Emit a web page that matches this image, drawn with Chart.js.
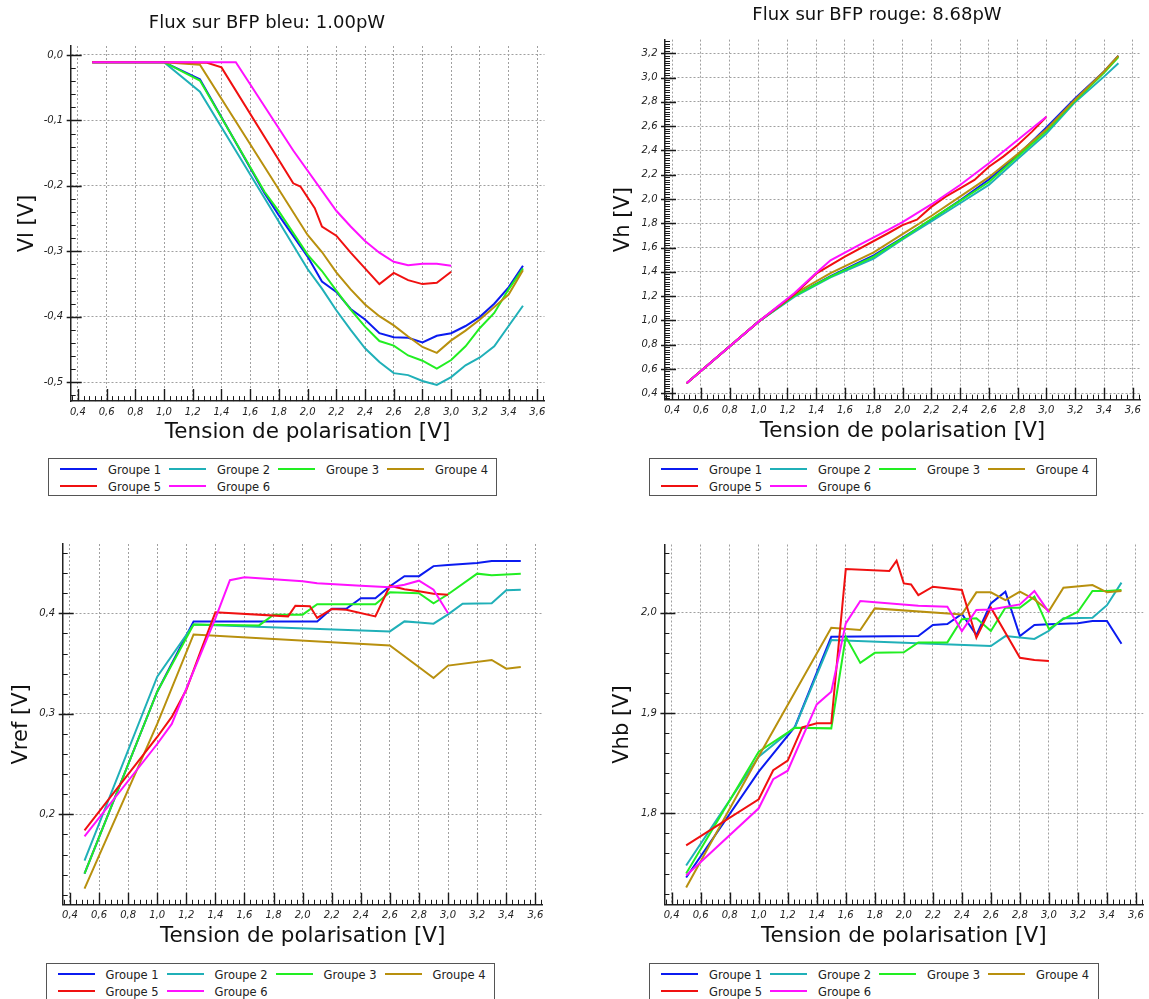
<!DOCTYPE html>
<html>
<head>
<meta charset="utf-8">
<script src="https://cdn.jsdelivr.net/npm/chart.js@4/dist/chart.umd.min.js"></script>
<style>
  body { margin:0; background:#fff; width:1149px; height:999px; overflow:hidden; position:relative; font-family:'DejaVu Sans', sans-serif; }
  canvas { position:absolute; }
  .title { position:absolute; font-size:18px; color:#111; transform:translate(-50%,-50%); white-space:nowrap; }
  .legend { position:absolute; border:1.5px solid #555; box-sizing:border-box; background:#fff; }
  .item { position:absolute; font-size:11.5px; color:#222; white-space:nowrap; line-height:14px; transform:translateY(-50%); }
  .item i { display:inline-block; width:37px; height:2px; vertical-align:middle; margin-right:11px; position:relative; top:-1px; }
</style>
</head>
<body>
<canvas id="c-vl" width="560" height="450" style="left:0;top:0"></canvas>
<canvas id="c-vh" width="574" height="450" style="left:575px;top:0"></canvas>
<canvas id="c-vref" width="560" height="450" style="left:0;top:500px"></canvas>
<canvas id="c-vhb" width="574" height="450" style="left:575px;top:500px"></canvas>
<div class="title" style="left:267px;top:20.7px">Flux sur BFP bleu: 1.00pW</div>
<div class="title" style="left:877px;top:13.3px">Flux sur BFP rouge: 8.68pW</div>
<div class="legend" id="leg-vl" style="left:48px;top:458px;width:449px;height:38px"></div>
<div class="legend" id="leg-vh" style="left:649px;top:458px;width:448px;height:38px"></div>
<div class="legend" id="leg-vref" style="left:45.5px;top:963px;width:449px;height:40px"></div>
<div class="legend" id="leg-vhb" style="left:649px;top:963px;width:450px;height:40px"></div>
<script>
/* ── DATA ── */
const groups = ['Groupe 1', 'Groupe 2', 'Groupe 3', 'Groupe 4', 'Groupe 5', 'Groupe 6'];
const colors = ['#0b1bf0', '#20b0b8', '#22ee22', '#b8900e', '#f01010', '#ff11ff'];

const xTicks    = [0.4, 0.6, 0.8, 1.0, 1.2, 1.4, 1.6, 1.8, 2.0, 2.2, 2.4, 2.6, 2.8, 3.0, 3.2, 3.4, 3.6];
const vlTicks   = [-0.5, -0.4, -0.3, -0.2, -0.1, 0.0];
const vhTicks   = [0.4, 0.6, 0.8, 1.0, 1.2, 1.4, 1.6, 1.8, 2.0, 2.2, 2.4, 2.6, 2.8, 3.0, 3.2];
const vrefTicks = [0.2, 0.3, 0.4];
const vhbTicks  = [1.8, 1.9, 2.0];

// Vl (haut gauche)
const vlX1 = [0.5, 1.0, 1.25, 1.7, 1.8, 2.0, 2.1, 2.2, 2.3, 2.4, 2.5, 2.6, 2.7, 2.8, 2.9, 3.0, 3.1, 3.2, 3.3, 3.4, 3.5];
const vlY1 = [-0.011, -0.011, -0.037, -0.211, -0.245, -0.308, -0.346, -0.362, -0.388, -0.404, -0.425, -0.431, -0.432, -0.439, -0.429, -0.425, -0.414, -0.400, -0.380, -0.355, -0.322];
const vlX2 = [0.5, 1.0, 1.25, 2.0, 2.1, 2.2, 2.3, 2.4, 2.5, 2.6, 2.7, 2.8, 2.9, 3.0, 3.1, 3.2, 3.3, 3.4, 3.5];
const vlY2 = [-0.011, -0.011, -0.056, -0.327, -0.357, -0.390, -0.420, -0.448, -0.469, -0.486, -0.489, -0.498, -0.504, -0.492, -0.474, -0.462, -0.445, -0.414, -0.383];
const vlX3 = [0.5, 1.0, 1.25, 1.7, 1.8, 2.0, 2.1, 2.2, 2.3, 2.4, 2.5, 2.6, 2.7, 2.8, 2.9, 3.0, 3.1, 3.2, 3.3, 3.4, 3.5];
const vlY3 = [-0.011, -0.011, -0.039, -0.209, -0.239, -0.305, -0.330, -0.360, -0.389, -0.415, -0.437, -0.444, -0.459, -0.467, -0.479, -0.466, -0.445, -0.417, -0.394, -0.358, -0.326];
const vlX4 = [0.5, 1.0, 1.25, 2.0, 2.1, 2.2, 2.3, 2.4, 2.5, 2.6, 2.7, 2.8, 2.9, 3.0, 3.1, 3.2, 3.3, 3.4, 3.5];
const vlY4 = [-0.011, -0.011, -0.015, -0.275, -0.301, -0.332, -0.358, -0.381, -0.399, -0.413, -0.430, -0.446, -0.455, -0.436, -0.421, -0.404, -0.385, -0.366, -0.329];
const vlX5 = [0.5, 1.0, 1.3, 1.4, 1.9, 1.95, 2.05, 2.1, 2.2, 2.3, 2.4, 2.5, 2.6, 2.7, 2.8, 2.9, 3.0];
const vlY5 = [-0.011, -0.011, -0.012, -0.019, -0.196, -0.201, -0.234, -0.262, -0.276, -0.302, -0.326, -0.350, -0.333, -0.344, -0.350, -0.348, -0.331];
const vlX6 = [0.5, 1.0, 1.5, 1.9, 2.2, 2.3, 2.4, 2.5, 2.6, 2.7, 2.8, 2.9, 3.0];
const vlY6 = [-0.011, -0.011, -0.011, -0.146, -0.238, -0.262, -0.284, -0.302, -0.316, -0.321, -0.319, -0.319, -0.322];

// Vh (haut droite)
const vhX  = [0.5, 1.0, 1.25, 1.5, 1.8, 2.0, 2.2, 2.4, 2.6, 2.8, 3.0, 3.2, 3.4, 3.5];
const vhY1 = [0.482, 0.99, 1.205, 1.365, 1.535, 1.68, 1.83, 1.99, 2.16, 2.36, 2.59, 2.83, 3.05, 3.18];
const vhY2 = [0.482, 0.99, 1.195, 1.355, 1.51, 1.668, 1.815, 1.965, 2.116, 2.33, 2.54, 2.80, 3.008, 3.118];
const vhY3 = [0.482, 0.99, 1.205, 1.36, 1.525, 1.675, 1.835, 1.985, 2.14, 2.35, 2.56, 2.81, 3.04, 3.17];
const vhY4 = [0.482, 0.99, 1.22, 1.39, 1.56, 1.71, 1.86, 2.02, 2.18, 2.37, 2.575, 2.82, 3.05, 3.18];
const vhX5 = [0.5, 1.0, 1.25, 1.4, 1.6, 1.9, 2.0, 2.1, 2.2, 2.3, 2.4, 2.5, 2.6, 2.7, 2.8, 2.9, 3.0];
const vhY5 = [0.482, 0.99, 1.215, 1.385, 1.525, 1.718, 1.785, 1.83, 1.935, 2.02, 2.088, 2.157, 2.266, 2.349, 2.445, 2.555, 2.678];
const vhX6 = [0.5, 1.0, 1.25, 1.4, 1.5, 1.7, 1.9, 2.0, 2.2, 2.4, 2.6, 2.8, 3.0];
const vhY6 = [0.482, 0.99, 1.225, 1.39, 1.495, 1.622, 1.745, 1.81, 1.955, 2.115, 2.294, 2.486, 2.678];

// Vref (bas gauche)
const vrefX1 = [0.5, 1.0, 1.25, 2.1, 2.2, 2.3, 2.4, 2.5, 2.6, 2.7, 2.8, 2.9, 3.0, 3.2, 3.3, 3.5];
const vrefY1 = [0.141, 0.322, 0.392, 0.392, 0.4045, 0.4045, 0.415, 0.415, 0.427, 0.437, 0.437, 0.447, 0.448, 0.450, 0.452, 0.452];
const vrefX2 = [0.5, 1.0, 1.25, 2.6, 2.7, 2.8, 2.9, 3.0, 3.1, 3.3, 3.4, 3.5];
const vrefY2 = [0.154, 0.337, 0.389, 0.382, 0.392, 0.391, 0.3897, 0.399, 0.4096, 0.410, 0.4229, 0.4235];
const vrefX3 = [0.5, 1.0, 1.25, 1.7, 1.8, 2.0, 2.1, 2.5, 2.6, 2.8, 2.9, 3.0, 3.2, 3.3, 3.5];
const vrefY3 = [0.141, 0.322, 0.389, 0.388, 0.3987, 0.3987, 0.409, 0.409, 0.421, 0.420, 0.410, 0.419, 0.4395, 0.438, 0.4395];
const vrefX4 = [0.5, 1.0, 1.25, 2.6, 2.9, 3.0, 3.3, 3.4, 3.5];
const vrefY4 = [0.126, 0.29, 0.379, 0.368, 0.3357, 0.348, 0.3536, 0.345, 0.3466];
const vrefX5 = [0.5, 1.0, 1.1, 1.2, 1.3, 1.4, 1.9, 1.95, 2.05, 2.1, 2.2, 2.3, 2.5, 2.6, 2.7, 2.8, 2.9, 3.0];
const vrefY5 = [0.184, 0.277, 0.297, 0.324, 0.363, 0.401, 0.397, 0.4076, 0.407, 0.3954, 0.4043, 0.4036, 0.397, 0.4275, 0.424, 0.422, 0.4196, 0.4186];
const vrefX6 = [0.5, 1.0, 1.1, 1.2, 1.3, 1.4, 1.5, 1.6, 1.8, 2.0, 2.1, 2.4, 2.6, 2.7, 2.8, 2.9, 3.0];
const vrefY6 = [0.178, 0.27, 0.29, 0.325, 0.36, 0.395, 0.433, 0.436, 0.434, 0.432, 0.430, 0.4275, 0.426, 0.4285, 0.4325, 0.4236, 0.400];

// Vhb (bas droite)
const vhbX1 = [0.5, 1.0, 1.25, 1.5, 2.1, 2.2, 2.3, 2.4, 2.5, 2.6, 2.7, 2.8, 2.9, 3.0, 3.2, 3.3, 3.4, 3.5];
const vhbY1 = [1.736, 1.8415, 1.8864, 1.976, 1.9767, 1.9877, 1.9887, 1.9987, 1.9777, 2.0093, 2.0209, 1.9767, 1.9877, 1.9884, 1.9894, 1.9917, 1.9917, 1.969];
const vhbX2 = [0.5, 1.0, 1.25, 1.5, 2.6, 2.7, 2.9, 3.0, 3.1, 3.3, 3.4, 3.5];
const vhbY2 = [1.748, 1.8565, 1.886, 1.9728, 1.9668, 1.9767, 1.9738, 1.982, 1.9944, 1.995, 2.0075, 2.030];
const vhbX3 = [0.5, 1.0, 1.25, 1.5, 1.6, 1.7, 1.8, 2.0, 2.1, 2.3, 2.4, 2.5, 2.6, 2.7, 2.8, 2.9, 3.0, 3.1, 3.2, 3.3, 3.4, 3.5];
const vhbY3 = [1.740, 1.8615, 1.8854, 1.8847, 1.976, 1.950, 1.960, 1.9605, 1.9704, 1.9704, 1.9934, 1.9944, 1.9817, 2.005, 2.005, 2.016, 1.9837, 1.9937, 2.001, 2.0216, 2.0216, 2.0226];
const vhbX4 = [0.5, 1.0, 1.5, 1.7, 1.8, 2.4, 2.5, 2.6, 2.7, 2.8, 2.9, 3.0, 3.1, 3.3, 3.4, 3.5];
const vhbY4 = [1.726, 1.857, 1.985, 1.9827, 2.0043, 1.9983, 2.0203, 2.0203, 2.0126, 2.021, 2.0133, 2.0017, 2.0249, 2.0276, 2.0203, 2.0216];
const vhbX5 = [0.5, 1.0, 1.1, 1.2, 1.3, 1.4, 1.5, 1.6, 1.9, 1.95, 2.0, 2.05, 2.1, 2.2, 2.4, 2.5, 2.6, 2.8, 2.9, 3.0];
const vhbY5 = [1.768, 1.814, 1.843, 1.8525, 1.8857, 1.8897, 1.8897, 2.0435, 2.0415, 2.0518, 2.0292, 2.0282, 2.0176, 2.0259, 2.0226, 1.9751, 2.005, 1.9551, 1.9528, 1.9518];
const vhbX6 = [0.5, 1.0, 1.1, 1.2, 1.4, 1.5, 1.6, 1.7, 2.1, 2.3, 2.4, 2.5, 2.6, 2.8, 2.9, 3.0];
const vhbY6 = [1.738, 1.805, 1.834, 1.8425, 1.9086, 1.9213, 1.9894, 2.0116, 2.007, 2.006, 1.9817, 2.0027, 2.0033, 2.0083, 2.0216, 2.0003];

/* ── HELPERS ── */
const fmt = v => v.toFixed(1).replace('.', ',');
function steps(a, b, st) {
  const out = [];
  for (let v = a; v <= b + 1e-9; v += st) out.push(Math.round(v * 1000) / 1000);
  return out;
}
const xMinor = steps(0.36, 3.64, 0.04);

// petits traits vers l'intérieur sur les axes (majeurs + mineurs)
const innerTicks = {
  id: 'innerTicks',
  afterDraw(chart, args, opts) {
    const { ctx, chartArea: a, scales: { x, y } } = chart;
    ctx.save();
    ctx.strokeStyle = '#1a1a1a';
    ctx.lineWidth = 1;
    ctx.beginPath();
    xMinor.forEach(v => {
      const p = Math.round(x.getPixelForValue(v)) + 0.5;
      ctx.moveTo(p, a.bottom); ctx.lineTo(p, a.bottom - 5);
    });
    opts.yMinor.forEach(v => {
      const p = Math.round(y.getPixelForValue(v)) + 0.5;
      ctx.moveTo(a.left, p); ctx.lineTo(a.left + 5, p);
    });
    ctx.stroke();
    ctx.lineWidth = 1.4;
    ctx.beginPath();
    xTicks.forEach(v => {
      const p = Math.round(x.getPixelForValue(v)) + 0.5;
      ctx.moveTo(p, a.bottom); ctx.lineTo(p, a.bottom - 12);
    });
    opts.yMajor.forEach(v => {
      const p = Math.round(y.getPixelForValue(v)) + 0.5;
      ctx.moveTo(a.left - 4, p); ctx.lineTo(a.left + 11, p);
    });
    ctx.stroke();
    ctx.restore();
  }
};

function makeChart(p) {
  const tickFont = { family: 'DejaVu Sans', size: 10, style: 'italic' };
  new Chart(document.getElementById(p.id), {
    type: 'scatter',
    data: {
      datasets: groups.map((g, i) => ({
        label: g,
        data: p.xs[i].map((x, j) => ({ x, y: p.ys[i][j] })),
        showLine: true,
        borderColor: colors[i],
        backgroundColor: colors[i],
        borderWidth: 2,
        pointRadius: 0,
        tension: 0,
        order: groups.length - i   // Groupe 6 dessiné par-dessus
      }))
    },
    options: {
      responsive: false,
      animation: false,
      layout: { padding: { left: 0, top: p.padTop, right: p.padRight, bottom: 0 } },
      plugins: {
        legend: { display: false },
        tooltip: { enabled: false },
        innerTicks: { yMinor: p.yMinor, yMajor: p.yTicks }
      },
      scales: {
        x: {
          type: 'linear', min: 0.35, max: 3.65,
          afterBuildTicks: s => { s.ticks = xTicks.map(v => ({ value: v })); },
          afterFit: s => { s.height = p.xh; },
          ticks: { callback: fmt, font: tickFont, color: '#222', padding: 5, autoSkip: false, maxRotation: 0 },
          grid: { color: '#a0a0a0', lineWidth: 1, drawTicks: false },
          border: { display: true, color: '#222', width: 1.5, dash: [2, 2] },
          title: { display: true, text: 'Tension de polarisation [V]', color: '#111',
                   font: { family: 'DejaVu Sans', size: 21.5 }, padding: { top: 0, bottom: p.xTitlePad } }
        },
        y: {
          type: 'linear', min: p.yMin, max: p.yMax,
          afterBuildTicks: s => { s.ticks = p.yTicks.map(v => ({ value: v })); },
          afterFit: s => { s.width = p.yw; },
          ticks: { callback: fmt, font: tickFont, color: '#222', padding: 7.5, autoSkip: false },
          grid: { color: '#a0a0a0', lineWidth: 1, drawTicks: false },
          border: { display: true, color: '#222', width: 1.5, dash: [2, 2] },
          title: { display: true, text: p.label, color: '#111',
                   font: { family: 'DejaVu Sans', size: 21 }, padding: { top: p.yTitlePad, bottom: 0 } }
        }
      }
    },
    plugins: [innerTicks]
  });
}

function makeLegend(id) {
  const box = document.getElementById(id);
  groups.forEach((g, i) => {
    const it = document.createElement('div');
    it.className = 'item';
    it.style.left = (11 + (i % 4) * 109) + 'px';
    it.style.top = (i < 4 ? 10.5 : 27.5) + 'px';
    it.innerHTML = `<i style="background:${colors[i]}"></i>${g}`;
    box.appendChild(it);
  });
}

/* ── INIT ── */
makeChart({ id: 'c-vl', label: 'Vl [V]',
  xs: [vlX1, vlX2, vlX3, vlX4, vlX5, vlX6], ys: [vlY1, vlY2, vlY3, vlY4, vlY5, vlY6],
  yTicks: vlTicks, yMinor: steps(-0.52, 0.0, 0.02), yMin: -0.5287, yMax: 0.0137,
  yw: 70.7, padTop: 46, padRight: 15.5, xh: 48.9, yTitlePad: 15.4, xTitlePad: 4.4 });

makeChart({ id: 'c-vh', label: 'Vh [V]',
  xs: [vhX, vhX, vhX, vhX, vhX5, vhX6], ys: [vhY1, vhY2, vhY3, vhY4, vhY5, vhY6],
  yTicks: vhTicks, yMinor: steps(0.36, 3.30, 0.02), yMin: 0.347, yMax: 3.313,
  yw: 90, padTop: 39.6, padRight: 9, xh: 50.3, yTitlePad: 36.4, xTitlePad: 5.4 });

makeChart({ id: 'c-vref', label: 'Vref [V]',
  xs: [vrefX1, vrefX2, vrefX3, vrefX4, vrefX5, vrefX6], ys: [vrefY1, vrefY2, vrefY3, vrefY4, vrefY5, vrefY6],
  yTicks: vrefTicks, yMinor: steps(0.12, 0.46, 0.02), yMin: 0.11, yMax: 0.469,
  yw: 62.7, padTop: 44, padRight: 17.4, xh: 45.2, yTitlePad: 9.4, xTitlePad: 0.7 });

makeChart({ id: 'c-vhb', label: 'Vhb [V]',
  xs: [vhbX1, vhbX2, vhbX3, vhbX4, vhbX5, vhbX6], ys: [vhbY1, vhbY2, vhbY3, vhbY4, vhbY5, vhbY6],
  yTicks: vhbTicks, yMinor: steps(1.72, 2.06, 0.02), yMin: 1.709, yMax: 2.068,
  yw: 89.4, padTop: 44.5, padRight: 4.1, xh: 45.4, yTitlePad: 35.4, xTitlePad: 0.7 });

['leg-vl', 'leg-vh', 'leg-vref', 'leg-vhb'].forEach(makeLegend);
</script>
</body>
</html>
